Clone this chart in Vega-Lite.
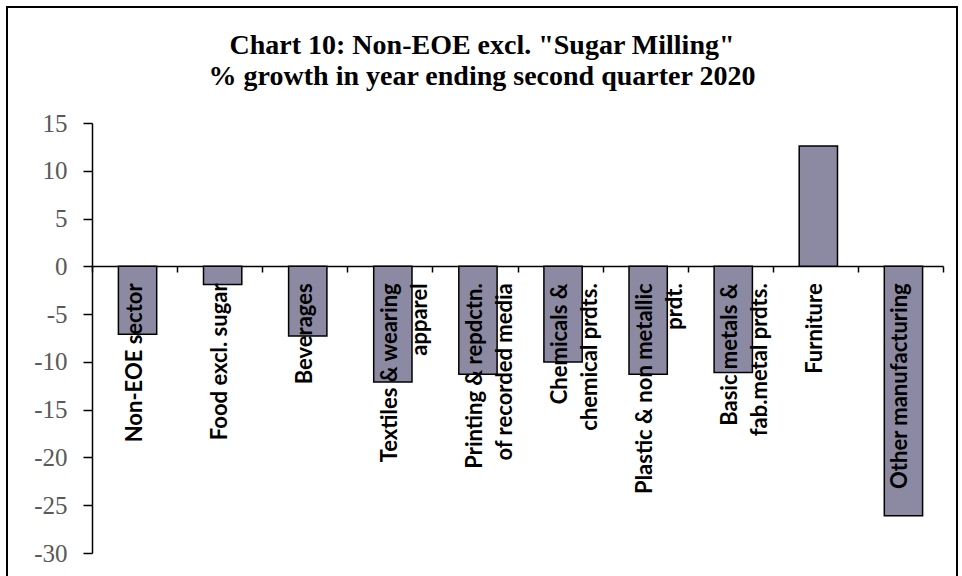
{
  "$schema": "https://vega.github.io/schema/vega-lite/v6.json",
  "autosize": {"type": "none"},
  "width": 950,
  "height": 570,
  "padding": {"left": 7, "top": 7, "right": 5, "bottom": 0},
  "background": "white",
  "config": {
    "view": {"stroke": "black", "strokeWidth": 2},
    "axis": {"grid": false}
  },
  "title": {
    "text": ["Chart 10: Non-EOE  excl. \"Sugar Milling\"", "% growth  in year ending second quarter  2020"],
    "font": "Liberation Serif",
    "fontSize": 28,
    "fontWeight": "bold",
    "color": "black",
    "lineHeight": 31,
    "anchor": "middle",
    "frame": "group",
    "baseline": "top",
    "offset": -84
  },
  "data": {
    "values": [
      {"category": "Non-EOE sector", "label": "Non-EOE sector", "value": -7.1},
      {"category": "Food excl. sugar", "label": "Food excl. sugar", "value": -1.9},
      {"category": "Beverages", "label": "Beverages", "value": -7.3},
      {"category": "Textiles & wearing apparel", "label": "Textiles & wearing\napparel", "value": -12.1},
      {"category": "Printing & repdctn. of recorded media", "label": "Printing & repdctn.\nof recorded media", "value": -11.3},
      {"category": "Chemicals & chemical prdts.", "label": "Chemicals &\nchemical prdts.", "value": -10.0},
      {"category": "Plastic & non metallic prdt.", "label": "Plastic & non metallic\nprdt.", "value": -11.3},
      {"category": "Basic metals & fab.metal prdts.", "label": "Basic metals &\nfab.metal prdts.", "value": -11.1},
      {"category": "Furniture", "label": "Furniture", "value": 12.6},
      {"category": "Other manufacturing", "label": "Other manufacturing", "value": -26.1}
    ]
  },
  "encoding": {
    "x": {
      "field": "category",
      "type": "nominal",
      "sort": null,
      "scale": {"range": [85, 936], "paddingInner": 0, "paddingOuter": 0},
      "axis": {
        "title": null,
        "labels": false,
        "ticks": true,
        "tickBand": "extent",
        "tickSize": 6,
        "tickColor": "black",
        "tickWidth": 1.5,
        "domainColor": "black",
        "domainWidth": 1.5,
        "offset": -311
      }
    }
  },
  "layer": [
    {
      "mark": {"type": "bar", "width": {"band": 0.45}, "xOffset": 3, "color": "#8c8aa2", "stroke": "black", "strokeWidth": 1.5},
      "encoding": {
        "y": {
          "field": "value",
          "type": "quantitative",
          "scale": {"domain": [-30, 15], "range": [546, 116], "nice": false, "zero": false},
          "axis": {
            "title": null,
            "values": [-30, -25, -20, -15, -10, -5, 0, 5, 10, 15],
            "labelExpr": "datum.value + ''",
            "offset": -85,
            "tickSize": 9,
            "tickColor": "black",
            "tickWidth": 1.5,
            "domainColor": "black",
            "domainWidth": 1.5,
            "labelFont": "Liberation Serif",
            "labelFontSize": 25,
            "labelColor": "#595959",
            "labelPadding": 16
          }
        }
      }
    },
    {
      "mark": {
        "type": "text",
        "angle": 270,
        "align": "right",
        "baseline": "middle",
        "dx": -17,
        "font": "Lato",
        "fontWeight": "bold",
        "fontSize": 22,
        "lineHeight": 30,
        "lineBreak": "\n",
        "color": "black"
      },
      "encoding": {
        "y": {"datum": 0, "type": "quantitative"},
        "text": {"field": "label"}
      }
    }
  ]
}
